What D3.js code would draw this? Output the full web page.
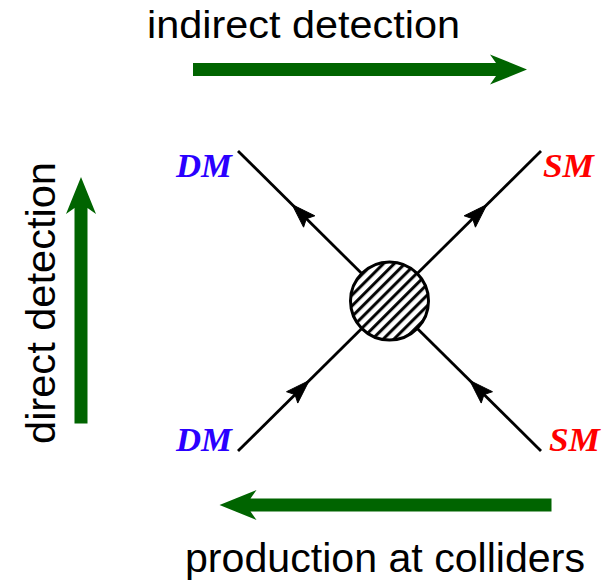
<!DOCTYPE html>
<html>
<head>
<meta charset="utf-8">
<script src="https://cdn.jsdelivr.net/npm/d3@7"></script>
<style>
  html, body { margin: 0; padding: 0; background: #fff; }
  svg { display: block; }
</style>
</head>
<body>
<svg id="chart" width="606" height="583"></svg>
<script>
// ---- data ----
const legNames   = ["DM", "SM", "DM", "SM"];           // top-left, top-right, bottom-left, bottom-right
const legCorners = [[-1, 1], [1, 1], [-1, -1], [1, -1]]; // diagram coordinates of the external ends
const legFlow    = ["out", "out", "in", "in"];          // fermion-arrow direction relative to the blob
const legColors  = ["#2a00ff", "#ff0000", "#2a00ff", "#ff0000"];
const processes  = ["indirect detection", "direct detection", "production at colliders"];

// ---- scales ----
const svg = d3.select("#chart");
const x = d3.scaleLinear().domain([-1, 1]).range([238, 541]);
const y = d3.scaleLinear().domain([1, -1]).range([151, 451]);
const blobR = 39;

// hatch pattern
const defs = svg.append("defs");
defs.append("pattern")
  .attr("id", "hatch")
  .attr("patternUnits", "userSpaceOnUse")
  .attr("width", 7.6).attr("height", 7.6)
  .attr("patternTransform", "rotate(45)")
  .append("line")
  .attr("x1", 1.6).attr("y1", -1).attr("x2", 1.6).attr("y2", 9)
  .attr("stroke", "#000").attr("stroke-width", 3);

const cx = x(0), cy = y(0);

// legs
const legs = legNames.map((n, i) => ({
  name: n, x0: x(legCorners[i][0]), y0: y(legCorners[i][1]),
  flow: legFlow[i], color: legColors[i], side: legCorners[i][0]
}));

svg.selectAll("line.leg").data(legs).join("line")
  .attr("class", "leg")
  .attr("x1", d => d.x0).attr("y1", d => d.y0)
  .attr("x2", cx).attr("y2", cy)
  .attr("stroke", "#000").attr("stroke-width", 2.8);

// fermion arrows on legs
const headLen = 24, headHalf = 8, notch = 4;
svg.selectAll("path.farrow").data(legs).join("path")
  .attr("class", "farrow")
  .attr("d", d => {
    const dx = d.x0 - cx, dy = d.y0 - cy;
    const L = Math.hypot(dx, dy);
    const ux = dx / L, uy = dy / L;          // unit vector outward
    const dir = d.flow === "out" ? 1 : -1;
    const mid = 125;                          // distance from centre
    const mx = cx + ux * mid, my = cy + uy * mid;
    const tx = mx + dir * ux * headLen / 2, ty = my + dir * uy * headLen / 2;
    const bx = mx - dir * ux * headLen / 2, by = my - dir * uy * headLen / 2;
    const px = -uy, py = ux;
    const nx = bx + dir * ux * notch, ny = by + dir * uy * notch;
    return `M${tx},${ty}L${bx + px * headHalf},${by + py * headHalf}L${nx},${ny}L${bx - px * headHalf},${by - py * headHalf}Z`;
  })
  .attr("fill", "#000").attr("stroke", "#000").attr("stroke-width", 1)
  .attr("stroke-linejoin", "round");

// blob
svg.append("circle").attr("cx", cx).attr("cy", cy).attr("r", blobR)
  .attr("fill", "#fff");
svg.append("circle").attr("cx", cx).attr("cy", cy).attr("r", blobR)
  .attr("fill", "url(#hatch)").attr("stroke", "#000").attr("stroke-width", 3);

// particle labels
svg.selectAll("text.plabel").data(legs).join("text")
  .attr("class", "plabel")
  .attr("x", d => d.side < 0 ? d.x0 - 62 : d.x0 + (d.y0 > cy ? 8 : 2))
  .attr("y", d => d.y0 + (d.y0 > cy ? 0 : 26))
  .attr("font-family", "'Liberation Serif', 'Times New Roman', serif")
  .attr("font-weight", "bold").attr("font-style", "italic")
  .attr("font-size", 34)
  .attr("textLength", d => d.name === "DM" ? 56 : 51)
  .attr("lengthAdjust", "spacingAndGlyphs")
  .attr("fill", d => d.color)
  .text(d => d.name);

// big green process arrows
const green = "#006400";
function bigArrow(x1, y1, x2, y2) {
  const dx = x2 - x1, dy = y2 - y1, L = Math.hypot(dx, dy);
  const ux = dx / L, uy = dy / L, px = -uy, py = ux;
  const sw = 6.5, hl = 37, hw = 15, nt = 6;
  const bx = x2 - ux * hl, by = y2 - uy * hl;
  const nx = bx + ux * nt, ny = by + uy * nt;
  const pts = [
    [x1 + px * sw, y1 + py * sw],
    [nx + px * sw, ny + py * sw],
    [bx + px * hw, by + py * hw],
    [x2, y2],
    [bx - px * hw, by - py * hw],
    [nx - px * sw, ny - py * sw],
    [x1 - px * sw, y1 - py * sw]
  ];
  svg.append("path").attr("d", "M" + pts.map(p => p.join(",")).join("L") + "Z")
    .attr("fill", green);
}
bigArrow(193, 69.5, 527, 69.5);
bigArrow(81, 423.5, 81, 177);
bigArrow(551.5, 505, 219.5, 505);

// process labels
const sans = "'Liberation Sans', Arial, Helvetica, sans-serif";
svg.append("text").attr("x", 147).attr("y", 38)
  .attr("font-family", sans).attr("font-size", 39)
  .attr("textLength", 313).attr("lengthAdjust", "spacingAndGlyphs")
  .attr("fill", "#000").text(processes[0]);

svg.append("text")
  .attr("transform", "translate(55,444) rotate(-90)")
  .attr("font-family", sans).attr("font-size", 41)
  .attr("textLength", 282).attr("lengthAdjust", "spacingAndGlyphs")
  .attr("fill", "#000").text(processes[1]);

svg.append("text").attr("x", 185).attr("y", 572)
  .attr("font-family", sans).attr("font-size", 41)
  .attr("textLength", 400).attr("lengthAdjust", "spacingAndGlyphs")
  .attr("fill", "#000").text(processes[2]);
</script>
</body>
</html>
